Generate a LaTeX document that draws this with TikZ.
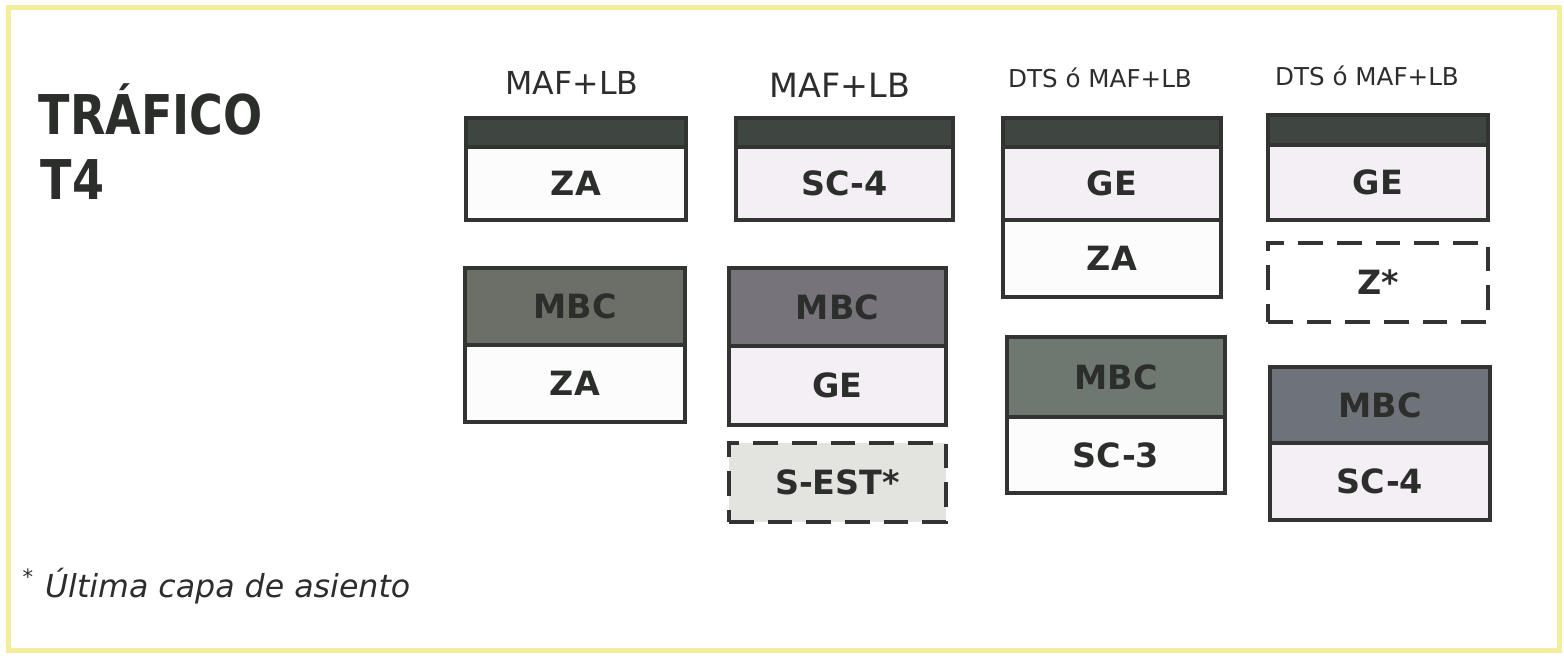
\documentclass[tikz,border=0pt]{standalone}
\usepackage{fontspec}
\setmainfont{DejaVu Sans}
\newfontfamily\titulofont{DejaVu Sans}[FakeStretch=0.84]
\usepackage{tikz}
\usepackage{xcolor}
\usetikzlibrary{positioning}
\definecolor{marco}{HTML}{F2EE9C}
\definecolor{borde}{HTML}{323432}
\definecolor{texto}{HTML}{2C2E2C}
\definecolor{crodadura}{HTML}{3F4541}
\definecolor{cmbcA}{HTML}{6C6F67}
\definecolor{cmbcB}{HTML}{77737A}
\definecolor{cmbcC}{HTML}{6E7870}
\definecolor{cmbcD}{HTML}{6D7379}
\definecolor{cblanco}{HTML}{FCFCFC}
\definecolor{crosa}{HTML}{F4EFF4}
\definecolor{cgris}{HTML}{E3E3DF}
\tikzstyle{capa} = [draw=borde, 
line width=1.4pt, 
minimum width=2.2cm, 
inner sep=0pt, outer sep=0pt, 
text=texto, font=\bfseries\fontsize{9.5}{11}\selectfont]
\tikzstyle{rodadura} = [capa, fill=crodadura, minimum height=0.29cm]
\tikzstyle{punteada} = [capa, dash pattern=on 7pt off 4pt]
\tikzstyle{cabecera} = [text=texto, inner sep=0pt]

\begin{document}
\begin{tikzpicture}[scale=1]
        \useasboundingbox (0,0) rectangle (15.64,-6.56);
        % Marco
        \draw[marco, line width=0.05cm] (0.08,-0.08) rectangle (15.59,-6.51);

        % Titulo
        \node[cabecera, anchor=base west, font=\titulofont\bfseries\fontsize{15.6}{18}\selectfont] (trafico) at (0.38,-1.35) {TRÁFICO};
        \node[cabecera, anchor=base west, font=\titulofont\bfseries\fontsize{15.6}{18}\selectfont] (t4) at (0.40,-2.00) {T4};

        % Cabeceras
        \node[cabecera, font=\fontsize{9}{11}\selectfont] (cab1) at (5.72,-0.83) {MAF+LB};
        \node[cabecera, font=\fontsize{9.5}{11}\selectfont] (cab2) at (8.40,-0.85) {MAF+LB};
        \node[cabecera, font=\fontsize{7}{9}\selectfont] (cab3) at (11.00,-0.78) {DTS ó MAF+LB};
        \node[cabecera, font=\fontsize{7}{9}\selectfont] (cab4) at (13.67,-0.76) {DTS ó MAF+LB};

        % Columna 1
        \node[rodadura, anchor=north west] (rod1) at (4.66,-1.18) {};
        \node[capa, fill=cblanco, minimum height=0.73cm, below=0pt of rod1] (za1) {ZA};
        \node[capa, fill=cmbcA, minimum height=0.77cm, anchor=north west] (mbc1) at (4.65,-2.68) {MBC};
        \node[capa, fill=cblanco, minimum height=0.77cm, below=0pt of mbc1] (zb1) {ZA};

        % Columna 2
        \node[rodadura, anchor=north west, minimum width=2.17cm] (rod2) at (7.36,-1.18) {};
        \node[capa, fill=crosa, minimum width=2.17cm, minimum height=0.73cm, below=0pt of rod2] (sc2) {SC-4};
        \node[capa, fill=cmbcB, minimum width=2.17cm, minimum height=0.78cm, anchor=north west] (mbc2) at (7.29,-2.68) {MBC};
        \node[capa, fill=crosa, minimum width=2.17cm, minimum height=0.79cm, below=0pt of mbc2] (ge2) {GE};
        \node[punteada, fill=cgris, minimum width=2.17cm, minimum height=0.79cm, anchor=north west] (sest2) at (7.29,-4.43) {S-EST*};

        % Columna 3
        \node[rodadura, anchor=north west, minimum width=2.18cm] (rod3) at (10.03,-1.18) {};
        \node[capa, fill=crosa, minimum width=2.18cm, minimum height=0.73cm, below=0pt of rod3] (ge3) {GE};
        \node[capa, fill=cblanco, minimum width=2.18cm, minimum height=0.77cm, below=0pt of ge3] (za3) {ZA};
        \node[capa, fill=cmbcC, minimum width=2.18cm, minimum height=0.80cm, anchor=north west] (mbc3) at (10.07,-3.37) {MBC};
        \node[capa, fill=cblanco, minimum width=2.18cm, minimum height=0.76cm, below=0pt of mbc3] (sc3) {SC-3};

        % Columna 4
        \node[rodadura, anchor=north west, minimum height=0.30cm] (rod4) at (12.68,-1.15) {};
        \node[capa, fill=crosa, minimum height=0.75cm, below=0pt of rod4] (ge4) {GE};
        \node[punteada, fill=white, minimum height=0.79cm, anchor=north west] (z4) at (12.68,-2.43) {Z*};
        \node[capa, fill=cmbcD, minimum height=0.76cm, anchor=north west] (mbc4) at (12.70,-3.67) {MBC};
        \node[capa, fill=crosa, minimum height=0.77cm, below=0pt of mbc4] (sc4) {SC-4};

        % Nota
        \node[cabecera, anchor=base west, font=\fontsize{9}{11}\selectfont] (nota) at (0.22,-5.98) {\textsuperscript{*} \textit{Última capa de asiento}};
    \end{tikzpicture}
\end{document}
